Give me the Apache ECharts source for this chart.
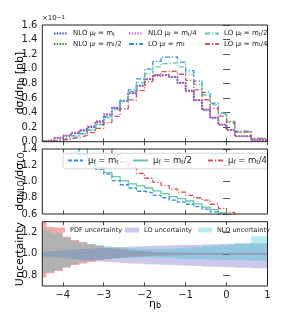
<!DOCTYPE html>
<html><head><meta charset="utf-8">
<script src="https://cdn.jsdelivr.net/npm/echarts@6/dist/echarts.min.js"></script>
<style>html,body{margin:0;padding:0;background:#fff}#c{width:282px;height:329px}</style>
</head><body><div id="c"></div>
<script>
// ---- data ----
const binEdges = [-4.5,-4.4,-4.2,-4.0,-3.8,-3.6,-3.4,-3.2,-3.0,-2.8,-2.6,-2.4,-2.2,-2.0,-1.8,-1.6,-1.4,-1.2,-1.0,-0.8,-0.6,-0.4,-0.2,0.0,0.2,0.6,1.0];
const xTicks = [-4,-3,-2,-1,0,1];
const yTicksTop = [0,0.2,0.4,0.6,0.8,1.0,1.2,1.4,1.6];
const yTicksRatio = [0.6,0.8,1.0,1.2,1.4];
const yTicksUnc = [0.8,1.0,1.2];

// differential cross section (units of 1e-1 pb)
const nloMt   = [0.010,0.020,0.050,0.080,0.115,0.150,0.200,0.270,0.370,0.460,0.560,0.670,0.770,0.860,0.910,0.920,0.890,0.810,0.700,0.570,0.440,0.330,0.235,0.160,0.075,0.023];
const nloMt2  = [0.010,0.021,0.052,0.082,0.118,0.155,0.205,0.275,0.372,0.462,0.558,0.665,0.765,0.855,0.905,0.915,0.885,0.805,0.695,0.565,0.438,0.328,0.232,0.158,0.074,0.022];
const nloMt4  = [0.012,0.024,0.056,0.088,0.125,0.162,0.212,0.282,0.378,0.468,0.562,0.668,0.768,0.858,0.907,0.918,0.888,0.808,0.698,0.568,0.440,0.330,0.233,0.158,0.074,0.022];
const loMt    = [0.005,0.011,0.029,0.050,0.079,0.114,0.166,0.238,0.343,0.450,0.570,0.710,0.860,0.995,1.100,1.160,1.165,1.090,0.975,0.830,0.675,0.530,0.395,0.280,0.145,0.046];
const loMt2   = [0.004,0.009,0.025,0.044,0.071,0.103,0.155,0.228,0.330,0.430,0.550,0.685,0.810,0.930,1.025,1.070,1.085,1.025,0.920,0.785,0.640,0.505,0.380,0.272,0.136,0.044];
const loMt4   = [0.0036,0.0077,0.021,0.037,0.059,0.086,0.125,0.182,0.262,0.346,0.452,0.573,0.700,0.825,0.915,0.960,0.967,0.925,0.840,0.710,0.575,0.460,0.350,0.258,0.132,0.043];

// NLO/LO ratios
const ratioMt  = [2.0,1.9,1.75,1.6,1.48,1.33,1.22,1.15,1.09,1.01,0.96,0.92,0.88,0.86,0.83,0.80,0.77,0.745,0.72,0.69,0.66,0.625,0.59,0.565,0.53,0.50];
const ratioMt2 = [2.3,2.2,2.0,1.8,1.62,1.45,1.26,1.17,1.11,1.06,1.01,0.97,0.945,0.92,0.885,0.85,0.815,0.79,0.76,0.725,0.685,0.655,0.615,0.585,0.55,0.52];
const ratioMt4 = [2.8,2.6,2.4,2.15,1.95,1.75,1.6,1.48,1.42,1.33,1.24,1.17,1.10,1.04,0.99,0.95,0.91,0.87,0.83,0.80,0.77,0.72,0.67,0.62,0.57,0.54];

// uncertainty bands (relative)
const pdfLo = [0.78,0.82,0.84,0.87,0.895,0.91,0.925,0.94,0.95,0.96,0.965,0.97,0.975,0.98,0.983,0.985,0.987,0.988,0.989,0.99,0.99,0.99,0.99,0.99,0.99,0.99];
const pdfHi = [1.30,1.25,1.21,1.16,1.13,1.11,1.09,1.075,1.06,1.05,1.04,1.032,1.026,1.021,1.018,1.015,1.013,1.012,1.011,1.010,1.010,1.010,1.010,1.010,1.010,1.010];
const loUncLo = [0.975,0.97,0.965,0.958,0.95,0.943,0.936,0.93,0.925,0.92,0.915,0.911,0.907,0.904,0.901,0.898,0.895,0.892,0.889,0.886,0.883,0.88,0.877,0.874,0.87,0.866];
const loUncHi = [1.02,1.025,1.03,1.035,1.04,1.045,1.05,1.055,1.058,1.062,1.065,1.068,1.071,1.074,1.076,1.078,1.08,1.082,1.084,1.086,1.088,1.09,1.092,1.094,1.097,1.10];
const nloUncLo = [0.82,0.83,0.85,0.88,0.905,0.925,0.94,0.948,0.955,0.96,0.962,0.964,0.965,0.965,0.963,0.96,0.958,0.955,0.952,0.95,0.948,0.946,0.944,0.942,0.94,0.935];
const nloUncHi = [1.22,1.22,1.19,1.15,1.12,1.105,1.093,1.084,1.075,1.065,1.058,1.052,1.048,1.045,1.045,1.048,1.05,1.055,1.06,1.065,1.07,1.075,1.08,1.085,1.10,1.165];

// ---- helpers ----
function steps(vals){
  const d = vals.map((v,i)=>[binEdges[i], v]);
  d.push([binEdges[binEdges.length-1], vals[vals.length-1]]);
  return d;
}
function bins(lo, hi){ return lo.map((l,i)=>[binEdges[i], binEdges[i+1], l, hi[i]]); }
const FONT = 'DejaVu Sans';
const INK = '#222';
const fmtNum = v => (v<0?'\u2212':'') + Math.abs(v).toString();
const fmt1 = v => v.toFixed(1);

const grids = [
  {left:42.3, right:14.5, top:25, height:116.7},
  {left:42.3, right:14.5, top:149, height:65},
  {left:42.3, right:14.5, top:221.7, height:64.3}
];
const yRanges = [[0,1.6,yTicksTop],[0.6,1.4,yTicksRatio],[0.7,1.3,yTicksUnc]];

const xAxes = [], yAxes = [];
grids.forEach((g,gi)=>{
  ['bottom','top'].forEach(pos=>{
    xAxes.push({type:'value', gridIndex:gi, position:pos, min:-4.5, max:1,
      axisLine:{show:false}, splitLine:{show:false},
      axisTick:{show:true, inside:true, length:3.5, customValues:xTicks, lineStyle:{color:INK, width:0.8}},
      axisLabel:{show: gi===2 && pos==='bottom', customValues:xTicks, formatter:fmtNum, fontFamily:FONT, fontSize:10, color:INK, margin:4}
    });
  });
  ['left','right'].forEach(pos=>{
    const r = yRanges[gi];
    yAxes.push({type:'value', gridIndex:gi, position:pos, min:r[0], max:r[1],
      axisLine:{show:false}, splitLine:{show:false},
      axisTick:{show:true, inside:true, length:3.5, customValues:r[2], lineStyle:{color:INK, width:0.8}},
      axisLabel:{show: pos==='left', customValues:r[2], formatter:fmt1, fontFamily:FONT, fontSize:10, color:INK, margin:5}
    });
  });
});

function lineSeries(name, vals, gi, color, type, width){
  return {name, type:'line', xAxisIndex:gi*2, yAxisIndex:gi*2, data:steps(vals), step:'end',
    symbol:'none', showSymbol:false, clip:true, animation:false, z:3,
    lineStyle:{color, type, width}, itemStyle:{color, opacity:0}};
}
const DOT = [1.4,1.4], DASHDOT = [5,2,1.2,2], DASH = [4,2];

const C = {
  nloMt:'#3b3bf0', nloMt2:'#2e8b2e', nloMt4:'#dd44dd',
  loMt:'#2f8ff0', loMt2:'#5fcaa2', loMt4:'#d9534f',
  pdf:'rgba(235,50,50,0.42)', lo:'rgba(110,100,200,0.35)', nlo:'rgba(20,200,200,0.30)',
  pdfIcon:'#f6a9a9', loIcon:'#ccc9ec', nloIcon:'#b9eeee'
};

const series = [
  lineSeries('NLO mt', nloMt, 0, C.nloMt, DOT, 1.6),
  lineSeries('NLO mt/2', nloMt2, 0, C.nloMt2, DOT, 1.6),
  lineSeries('NLO mt/4', nloMt4, 0, C.nloMt4, DOT, 1.6),
  lineSeries('LO mt', loMt, 0, C.loMt, DASHDOT, 1.3),
  lineSeries('LO mt/2', loMt2, 0, C.loMt2, DASHDOT, 1.3),
  lineSeries('LO mt/4', loMt4, 0, C.loMt4, DASHDOT, 1.3),
  lineSeries('R mt', ratioMt, 1, C.loMt, DASH, 1.3),
  lineSeries('R mt/2', ratioMt2, 1, C.loMt2, 'solid', 1.3),
  lineSeries('R mt/4', ratioMt4, 1, C.loMt4, DASHDOT, 1.3)
];
// band polygons drawn through the axis scales (api.coord)
function band(name, lo, hi, color){
  const data = bins(lo, hi);
  series.push({name, type:'custom', xAxisIndex:4, yAxisIndex:4, data, animation:false, silent:true, z:2,
    clip:true, itemStyle:{color},
    encode:{x:[0,1], y:[2,3]},
    renderItem:(params, api)=>{
      if (params.dataIndex !== 0) return null;
      const top = [], bot = [];
      data.forEach(d=>{
        top.push(api.coord([d[0], d[3]])); top.push(api.coord([d[1], d[3]]));
        bot.push(api.coord([d[0], d[2]])); bot.push(api.coord([d[1], d[2]]));
      });
      const pts = top.concat(bot.reverse());
      const cs = params.coordSys;
      return {type:'polygon', shape:{points:pts}, style:{fill:color},
        clipPath:{type:'rect', shape:{x:cs.x, y:cs.y, width:cs.width, height:cs.height}}};
    }});
}
band('PDF uncertainty', pdfLo, pdfHi, C.pdf);
band('LO uncertainty', loUncLo, loUncHi, C.lo);
band('NLO uncertainty', nloUncLo, nloUncHi, C.nlo);

const subRich = {
  n:{fontFamily:FONT, fontSize:7, color:INK},
  s:{fontFamily:FONT, fontSize:5, color:INK, verticalAlign:'bottom', lineHeight:5}
};
const legLabels = {
  'NLO mt':'{n|NLO μ}{s|f}{n| = m}{s|t}',
  'NLO mt/2':'{n|NLO μ}{s|f}{n| = m}{s|t}{n|/2}',
  'NLO mt/4':'{n|NLO μ}{s|f}{n| = m}{s|t}{n|/4}',
  'LO mt':'{n|LO μ}{s|f}{n| = m}{s|t}',
  'LO mt/2':'{n|LO μ}{s|f}{n| = m}{s|t}{n|/2}',
  'LO mt/4':'{n|LO μ}{s|f}{n| = m}{s|t}{n|/4}'
};
function topLeg(name, left, top){
  return {data:[name], left, top, orient:'horizontal', padding:0, itemWidth:14, itemHeight:8, itemGap:0,
    selectedMode:false, itemStyle:{opacity:0}, formatter:n=>legLabels[n], textStyle:{rich:subRich, fontSize:7}};
}
const midRich = {
  n:{fontFamily:FONT, fontSize:8.5, color:INK},
  s:{fontFamily:FONT, fontSize:6, color:INK, verticalAlign:'bottom', lineHeight:6}
};
const midLabels = {'R mt':'{n|μ}{s|f}{n| = m}{s|t}', 'R mt/2':'{n|μ}{s|f}{n| = m}{s|t}{n|/2}', 'R mt/4':'{n|μ}{s|f}{n| = m}{s|t}{n|/4}'};
function midLeg(name, left){
  return {data:[name], left, top:156, padding:0, itemWidth:15, itemHeight:10, selectedMode:false, z:5,
    itemStyle:{opacity:0}, formatter:n=>midLabels[n], textStyle:{rich:midRich, fontSize:8.5}};
}
function botLeg(name, icon, left){
  return {data:[{name, icon:'rect', itemStyle:{color:icon}}], left, top:226.5, padding:0, itemWidth:14, itemHeight:5,
    selectedMode:false, textStyle:{fontFamily:FONT, fontSize:6.5, color:INK}};
}

const legends = [
  topLeg('NLO mt', 53, 30), topLeg('NLO mt/4', 128, 30), topLeg('LO mt/2', 204, 30),
  topLeg('NLO mt/2', 53, 40.5), topLeg('LO mt', 128, 40.5), topLeg('LO mt/4', 204, 40.5),
  midLeg('R mt', 67), midLeg('R mt/2', 132), midLeg('R mt/4', 207),
  botLeg('PDF uncertainty', C.pdfIcon, 51), botLeg('LO uncertainty', C.loIcon, 125), botLeg('NLO uncertainty', C.nloIcon, 198)
];

const titleRich = {
  n:{fontFamily:FONT, fontSize:11, color:INK},
  s:{fontFamily:FONT, fontSize:8, color:INK, verticalAlign:'bottom', lineHeight:8}
};
const graphic = [
  {type:'rect', z:4, shape:{x:63, y:153.3, width:205, height:15.5, r:2.5},
    style:{fill:'rgba(255,255,255,0.8)', stroke:'#cccccc', lineWidth:0.8}},
  {type:'text', z:5, x:42, y:15, style:{text:'×10{p|−1}', rich:{n:{}, p:{fontSize:5.5, fontFamily:FONT, verticalAlign:'top', lineHeight:6}}, fontFamily:FONT, fontSize:7, fill:INK}},
  {type:'text', z:5, x:20, y:83, rotation:Math.PI/2, style:{text:'{n|dσ/dη}{s|b}{n| [pb]}', rich:titleRich, align:'center', verticalAlign:'middle'}},
  {type:'text', z:5, x:20, y:181.5, rotation:Math.PI/2, style:{text:'{n|dσ}{s|NLO}{n|/dσ}{s|LO}', rich:titleRich, align:'center', verticalAlign:'middle'}},
  {type:'text', z:5, x:20, y:254, rotation:Math.PI/2, style:{text:'{n|Uncertainty}', rich:titleRich, align:'center', verticalAlign:'middle'}},
  {type:'text', z:5, x:155, y:304, style:{text:'{n|η}{s|b}', rich:titleRich, align:'center', verticalAlign:'middle'}}
];

const chart = echarts.init(document.getElementById('c'), null, {renderer:'canvas'});
chart.setOption({
  animation:false,
  backgroundColor:'#fff',
  grid: grids.map(g=>Object.assign({show:true, borderColor:INK, borderWidth:1, backgroundColor:'transparent', z:6}, g)),
  xAxis:xAxes, yAxis:yAxes,
  legend:legends,
  series,
  graphic:{elements:graphic}
});
</script></body></html>
